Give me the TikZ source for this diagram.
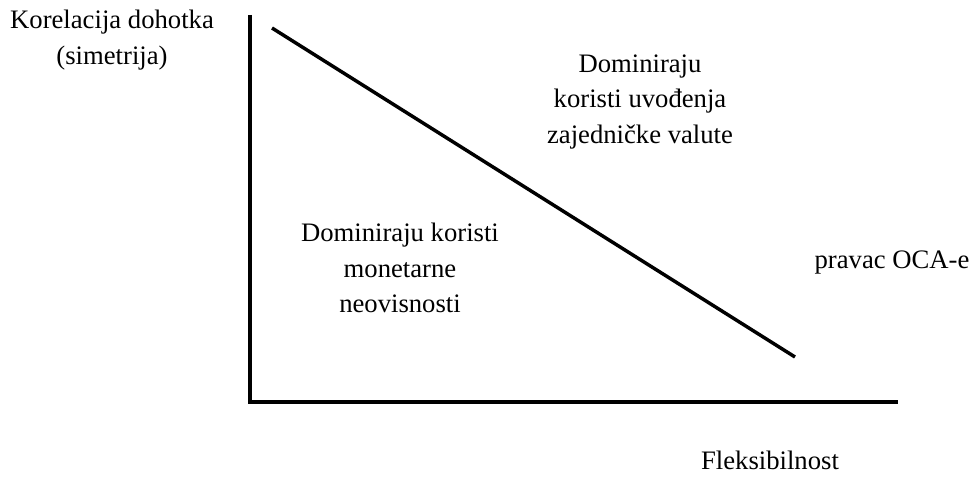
\documentclass[tikz,border=0pt]{standalone}
\usepackage{fontspec}
\setmainfont{Liberation Serif}
\usetikzlibrary{positioning}

\begin{document}
\begin{tikzpicture}[
x=0.75pt,y=-0.75pt,
lbl/.style={align=center,font=\fontsize{20}{26.5}\selectfont,inner sep=0pt},
axis/.style={line width=3pt},
oca/.style={line width=2.6pt}
]
\useasboundingbox (0,0) rectangle (972,478);
\coordinate (top) at (250,15);
\coordinate (origin) at (250,402);
\coordinate (xend) at (898,402);
\coordinate (ocaA) at (272,28);
\coordinate (ocaB) at (795,357);
\draw[axis] (top)--(origin)--(xend);
\draw[oca] (ocaA)--(ocaB);
\node[lbl] (ylab) at (112,40) {Korelacija dohotka\\(simetrija)};
\node[lbl] (union) at (640,102) {Dominiraju\\koristi uvođenja\\zajedničke valute};
\node[lbl] (indep) at (400,268) {Dominiraju koristi\\monetarne\\neovisnosti};
\node[lbl] (ocalab) at (892,263) {pravac OCA-e};
\node[lbl] (xlab) at (770,460) {Fleksibilnost};
\end{tikzpicture}
\end{document}
